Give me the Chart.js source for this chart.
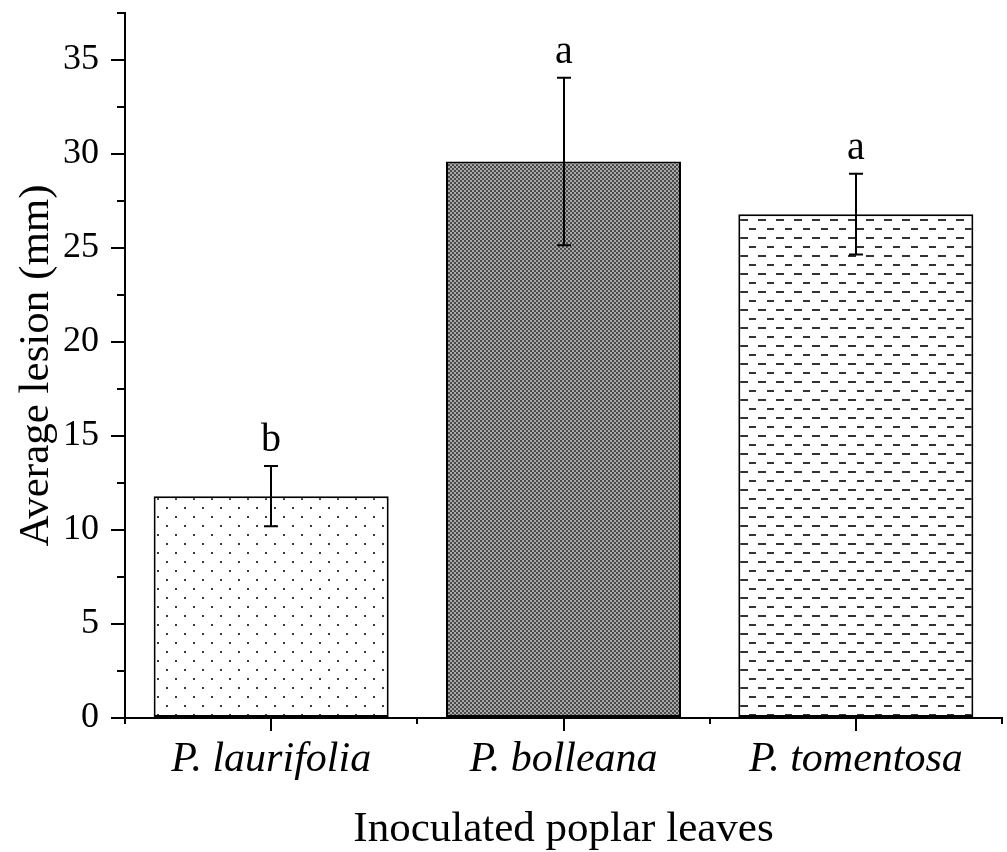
<!DOCTYPE html>
<html>
<head>
<meta charset="utf-8">
<script src="https://cdn.jsdelivr.net/npm/chart.js@4.4.1/dist/chart.umd.min.js"></script>
<style>
  body { margin: 0; background: #fff; }
  #wrap { width: 1007px; height: 852px; position: relative; }
</style>
</head>
<body>
<div id="wrap"><canvas id="lesionChart"></canvas></div>
<script>
// values
var categories = ['P. laurifolia', 'P. bolleana', 'P. tomentosa'];
var lesionMeans = [11.8, 29.6, 26.8];
var lesionSD = [1.6, 4.45, 2.15];
var groupLetters = ['b', 'a', 'a'];
var yMinorTicks = [2.5, 7.5, 12.5, 17.5, 22.5, 27.5, 32.5, 37.5];

var SERIF = "'Liberation Serif', 'Times New Roman', serif";

function makePattern(size, draw){
  var c = document.createElement('canvas');
  c.width = size; c.height = size;
  var g = c.getContext('2d');
  g.fillStyle = '#fff';
  g.fillRect(0, 0, size, size);
  draw(g);
  return g.createPattern(c, 'repeat');
}

var dotFill = makePattern(18, function(g){
  g.fillStyle = '#3a3a3a';
  g.fillRect(4, 3, 2, 2);
  g.fillRect(13, 12, 2, 2);
});
var checkFill = makePattern(4, function(g){
  g.fillStyle = '#a8a8a8';
  g.fillRect(0, 0, 4, 4);
  g.fillStyle = '#4a4a4a';
  g.fillRect(0, 0, 2, 2);
  g.fillRect(2, 2, 2, 2);
});
var dashFill = makePattern(18, function(g){
  g.fillStyle = '#333';
  g.fillRect(2, 3, 8, 2);
  g.fillRect(11, 12, 8, 2);
});

function noPad(s){
  s.paddingTop = 0; s.paddingBottom = 0;
  s.paddingLeft = 0; s.paddingRight = 0;
}

var extrasPlugin = {
  id: 'extras',
  afterDatasetsDraw: function(chart){
    var ctx = chart.ctx;
    var xs = chart.scales.x, ys = chart.scales.y;
    ctx.save();
    ctx.strokeStyle = '#000';
    ctx.lineWidth = 2;
    // minor ticks
    ctx.beginPath();
    yMinorTicks.forEach(function(v){
      var py = Math.round(ys.getPixelForValue(v));
      ctx.moveTo(xs.left - 8, py); ctx.lineTo(xs.left, py);
    });
    var half = (xs.getPixelForValue(1) - xs.getPixelForValue(0)) / 2;
    for (var i = 0; i <= categories.length; i++) {
      var px = Math.round(xs.getPixelForValue(i) - half);
      ctx.moveTo(px, ys.bottom); ctx.lineTo(px, ys.bottom + 6);
    }
    ctx.stroke();
    // error bars + letters
    ctx.fillStyle = '#000';
    ctx.font = '40px ' + SERIF;
    ctx.textAlign = 'center';
    ctx.textBaseline = 'alphabetic';
    lesionMeans.forEach(function(m, i){
      var cx = Math.round(xs.getPixelForValue(i));
      var hi = ys.getPixelForValue(m + lesionSD[i]);
      var lo = ys.getPixelForValue(m - lesionSD[i]);
      ctx.beginPath();
      ctx.moveTo(cx, hi); ctx.lineTo(cx, lo);
      ctx.moveTo(cx - 7, hi); ctx.lineTo(cx + 7, hi);
      ctx.moveTo(cx - 7, lo); ctx.lineTo(cx + 7, lo);
      ctx.stroke();
      ctx.fillText(groupLetters[i], cx, hi - 15);
    });
    ctx.restore();
  }
};

var chart = new Chart(document.getElementById('lesionChart'), {
  type: 'bar',
  data: {
    labels: categories,
    datasets: [{
      data: lesionMeans,
      backgroundColor: [dotFill, checkFill, dashFill],
      borderColor: '#000',
      borderWidth: 2,
      borderSkipped: false,
      barPercentage: 0.804,
      categoryPercentage: 1
    }]
  },
  options: {
    responsive: true,
    maintainAspectRatio: false,
    animation: false,
    layout: { padding: { top: 13, right: 5, left: 0, bottom: 0 } },
    plugins: { legend: { display: false }, tooltip: { enabled: false } },
    scales: {
      x: {
        offset: true,
        grid: { offset: false, drawOnChartArea: false, drawTicks: true, tickLength: 13, color: '#000', lineWidth: 2 },
        border: { display: true, color: '#000', width: 2 },
        ticks: { color: '#000', padding: 8, maxRotation: 0, autoSkip: false,
                 font: { family: SERIF, size: 42, style: 'italic', lineHeight: 1 } },
        title: { display: true, text: 'Inoculated poplar leaves', color: '#000',
                 font: { family: SERIF, size: 43, lineHeight: 1 }, padding: { top: 0, bottom: 1 } },
        afterFit: function(s){ s.height = 134; noPad(s); }
      },
      y: {
        min: 0,
        max: 37.5,
        afterBuildTicks: function(s){
          s.ticks = s.ticks.filter(function(t){ return t.value % 5 === 0; });
        },
        grid: { drawOnChartArea: false, drawTicks: true, tickLength: 14, color: '#000', lineWidth: 2 },
        border: { display: true, color: '#000', width: 2 },
        ticks: { stepSize: 5, color: '#000', padding: 12, font: { family: SERIF, size: 36 } },
        title: { display: true, text: 'Average lesion (mm)', color: '#000',
                 font: { family: SERIF, size: 43, lineHeight: 1 }, padding: { top: 15, bottom: 0 } },
        afterFit: function(s){ s.width = 125; noPad(s); }
      }
    }
  },
  plugins: [extrasPlugin]
});
</script>
</body>
</html>
